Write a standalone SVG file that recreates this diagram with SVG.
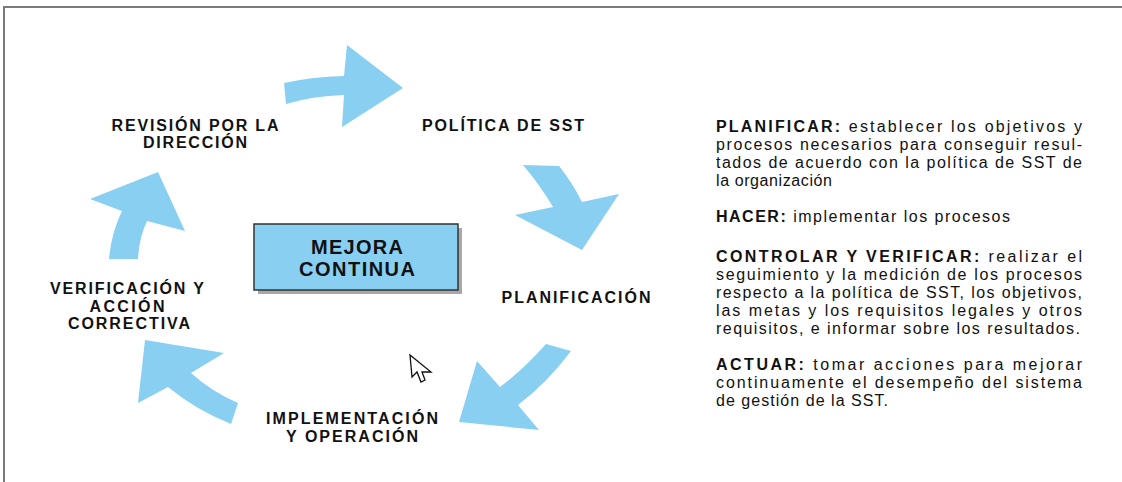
<svg xmlns="http://www.w3.org/2000/svg" width="1122" height="482" viewBox="0 0 1122 482">
<style>
.arrow{fill:#88CFF2;stroke:none}
.lbl{font-family:"Liberation Sans",Arial,sans-serif;font-weight:bold;font-size:16px;fill:#111;text-anchor:middle}
.box{font-family:"Liberation Sans",Arial,sans-serif;font-weight:bold;font-size:20px;fill:#111;text-anchor:middle}
.txt{font-family:"Liberation Sans",Arial,sans-serif;font-size:16px;fill:#111}
.b{font-weight:bold}
</style>
<rect x="0" y="0" width="1122" height="482" fill="#ffffff"/>
<path d="M4,482 L4,7 L1122,7" fill="none" stroke="#7a7a7a" stroke-width="2"/>
<g id="connectors">
<path class="arrow" d="M284,83 Q310,77 344,76 L347,45 L403,88 L342,127 L344,95 Q312,96 286,104 Z"/>
<path class="arrow" d="M523,165 L559,166 Q572,182 582,202 L619,194 L582,250 L515,215 L553,207 Q540,185 523,165 Z"/>
<path class="arrow" d="M571,351 L546,344 Q525,368 500,387 L477,361 L459,422 L539,430 L518,405 Q548,382 571,351 Z"/>
<path class="arrow" d="M238,403 L231,424 Q196,410 168,387 L138,403 L145,340 L224,353 L191,373 Q212,392 238,403 Z"/>
<path class="arrow" d="M109,259 L138,259 Q139,238 147,221 L185,231 L158,172 L90,199 L122,211 Q111,234 109,259 Z"/>
</g>
<g id="revision">
<text class="lbl" x="195" y="131" textLength="167" lengthAdjust="spacing">REVISIÓN POR LA</text>
<text class="lbl" x="195" y="148" textLength="104" lengthAdjust="spacing">DIRECCIÓN</text>
</g>
<g id="politica">
<text class="lbl" x="503" y="131" textLength="162" lengthAdjust="spacing">POLÍTICA DE SST</text>
</g>
<g id="planificacion">
<text class="lbl" x="576" y="303" textLength="149" lengthAdjust="spacing">PLANIFICACIÓN</text>
</g>
<g id="implementacion">
<text class="lbl" x="352" y="424" textLength="172" lengthAdjust="spacing">IMPLEMENTACIÓN</text>
<text class="lbl" x="352" y="442" textLength="132" lengthAdjust="spacing">Y OPERACIÓN</text>
</g>
<g id="verificacion">
<text class="lbl" x="127" y="294" textLength="154" lengthAdjust="spacing">VERIFICACIÓN Y</text>
<text class="lbl" x="127" y="312" textLength="75" lengthAdjust="spacing">ACCIÓN</text>
<text class="lbl" x="129" y="329" textLength="122" lengthAdjust="spacing">CORRECTIVA</text>
</g>
<g id="mejora">
<rect x="258" y="228" width="204" height="66" fill="#a8a8a8"/>
<rect x="254" y="224" width="204" height="66" fill="#88CFF2" stroke="#333" stroke-width="1.5"/>
<text class="box" x="357" y="254" textLength="92" lengthAdjust="spacing">MEJORA</text>
<text class="box" x="357" y="276" textLength="116" lengthAdjust="spacing">CONTINUA</text>
</g>
<g id="cursor">
<path d="M410,355 L412,377 L417,372 L421,382 L425,380 L422,372 L431,372 Z" fill="#fff" stroke="#111" stroke-width="1.3" stroke-linejoin="miter"/>
</g>
<g id="descripcion">
<text class="txt" x="716" y="132" textLength="366" lengthAdjust="spacing"><tspan class="b">PLANIFICAR:</tspan> establecer los objetivos y</text>
<text class="txt" x="716" y="150" textLength="366" lengthAdjust="spacing">procesos necesarios para conseguir resul-</text>
<text class="txt" x="716" y="168" textLength="366" lengthAdjust="spacing">tados de acuerdo con la política de SST de</text>
<text class="txt" x="716" y="186" textLength="116" lengthAdjust="spacing">la organización</text>
<text class="txt" x="716" y="222" textLength="294" lengthAdjust="spacing"><tspan class="b">HACER:</tspan> implementar los procesos</text>
<text class="txt" x="716" y="262" textLength="366" lengthAdjust="spacing"><tspan class="b">CONTROLAR Y VERIFICAR:</tspan> realizar el</text>
<text class="txt" x="716" y="280" textLength="366" lengthAdjust="spacing">seguimiento y la medición de los procesos</text>
<text class="txt" x="716" y="298" textLength="366" lengthAdjust="spacing">respecto a la política de SST, los objetivos,</text>
<text class="txt" x="716" y="316" textLength="366" lengthAdjust="spacing">las metas y los requisitos legales y otros</text>
<text class="txt" x="716" y="334" textLength="364" lengthAdjust="spacing">requisitos, e informar sobre los resultados.</text>
<text class="txt" x="716" y="370" textLength="366" lengthAdjust="spacing"><tspan class="b">ACTUAR:</tspan> tomar acciones para mejorar</text>
<text class="txt" x="716" y="388" textLength="366" lengthAdjust="spacing">continuamente el desempeño del sistema</text>
<text class="txt" x="716" y="406" textLength="172" lengthAdjust="spacing">de gestión de la SST.</text>
</g>
</svg>
